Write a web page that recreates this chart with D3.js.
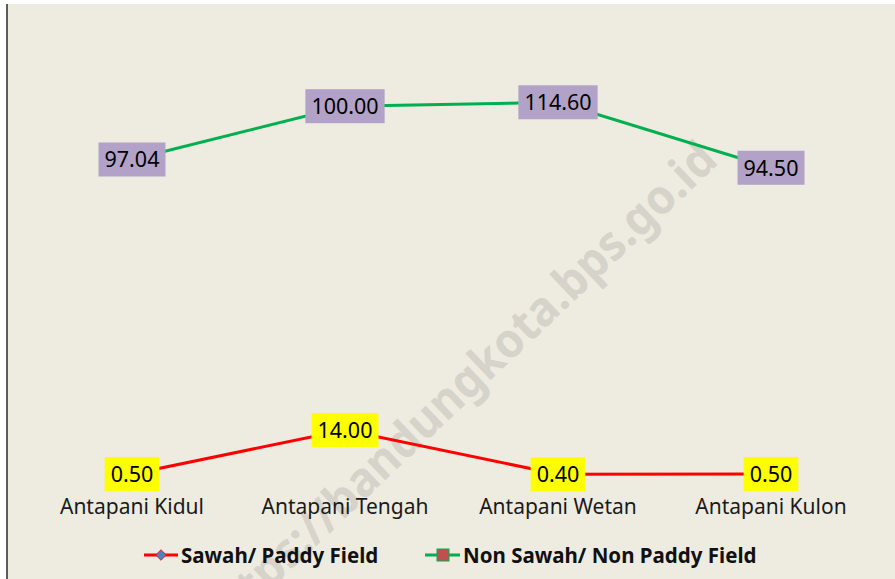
<!DOCTYPE html>
<html>
<head>
<meta charset="utf-8">
<script src="https://cdn.jsdelivr.net/npm/d3@7"></script>
<style>
  body { margin: 0; background: #fff; }
  svg { display: block; }
</style>
</head>
<body>
<div id="chart"></div>
<script>
// data
const categories = ["Antapani Kidul", "Antapani Tengah", "Antapani Wetan", "Antapani Kulon"];
const sawah = [0.5, 14.0, 0.4, 0.5];
const sawahLabels = ["0.50", "14.00", "0.40", "0.50"];
// plotted position of Tengah sits near 113, though its label reads 100.00
const nonSawah = [97.04, 113.4, 114.6, 94.5];
const nonSawahLabels = ["97.04", "100.00", "114.60", "94.50"];
const seriesNames = ["Sawah/ Paddy Field", "Non Sawah/ Non Paddy Field"];

const width = 895, height = 579;

const svg = d3.select("#chart")
    .append("svg")
    .attr("width", width)
    .attr("height", height);

// chart area background
svg.append("rect")
    .attr("x", 7).attr("y", 4)
    .attr("width", width - 7).attr("height", height - 4)
    .attr("fill", "#eeebe1");

svg.append("line")
    .attr("x1", 7).attr("x2", 7)
    .attr("y1", 4).attr("y2", height)
    .attr("stroke", "#2b2b2b")
    .attr("stroke-width", 1.5);

// watermark
svg.append("text")
    .attr("transform", "translate(458,388) rotate(-43.5)")
    .attr("text-anchor", "middle")
    .attr("dy", "0.35em")
    .attr("font-family", "Noto Sans, sans-serif")
    .attr("font-weight", "bold")
    .attr("font-size", "48px")
    .attr("fill", "#d6d3ca")
    .attr("textLength", 690)
    .attr("lengthAdjust", "spacingAndGlyphs")
    .text("https://bandungkota.bps.go.id");

const x = d3.scalePoint()
    .domain(categories)
    .range([25.5, 877.5])
    .padding(0.5);

const y = d3.scaleLinear()
    .domain([0, 120])
    .range([475.6, 84.7]);

const line = d3.line()
    .x((d, i) => x(categories[i]))
    .y(d => y(d));

// series lines
svg.append("path")
    .datum(sawah)
    .attr("d", line)
    .attr("fill", "none")
    .attr("stroke", "#ff0000")
    .attr("stroke-width", 3);

svg.append("path")
    .datum(nonSawah)
    .attr("d", line)
    .attr("fill", "none")
    .attr("stroke", "#00b050")
    .attr("stroke-width", 3);

// data labels with filled boxes
function addLabels(values, labels, fill) {
    const g = svg.append("g")
        .selectAll("g")
        .data(values)
        .enter().append("g")
        .attr("transform", (d, i) => `translate(${x(categories[i])},${y(d)})`);

    g.append("text")
        .attr("text-anchor", "middle")
        .attr("dy", "0.36em")
        .attr("font-family", "Noto Sans, sans-serif")
        .attr("font-size", "21.5px")
        .attr("fill", "#000")
        .text((d, i) => labels[i]);

    g.insert("rect", "text")
        .each(function () {
            const w = this.parentNode.querySelector("text").getComputedTextLength();
            d3.select(this)
                .attr("x", -w / 2 - 6)
                .attr("y", -17)
                .attr("width", w + 12)
                .attr("height", 34)
                .attr("fill", fill);
        });
}

addLabels(sawah, sawahLabels, "#ffff00");
addLabels(nonSawah, nonSawahLabels, "#b2a2c7");

// category labels
svg.append("g")
    .selectAll("text")
    .data(categories)
    .enter().append("text")
    .attr("x", d => x(d))
    .attr("y", 514)
    .attr("text-anchor", "middle")
    .attr("font-family", "Noto Sans, sans-serif")
    .attr("font-size", "21px")
    .attr("fill", "#1a1a1a")
    .text(d => d);

// legend
const legend = svg.append("g");

const leg1 = legend.append("g").attr("transform", "translate(144,555)");
leg1.append("line")
    .attr("x1", 0).attr("x2", 34)
    .attr("stroke", "#ff0000").attr("stroke-width", 3);
leg1.append("path")
    .attr("d", d3.symbol(d3.symbolDiamond2, 72)())
    .attr("transform", "translate(17,0)")
    .attr("fill", "#4f81bd")
    .attr("stroke", "#ff0000")
    .attr("stroke-width", 0.8);
leg1.append("text")
    .attr("x", 37).attr("y", 7.5)
    .attr("font-family", "Noto Sans, sans-serif")
    .attr("font-weight", "bold")
    .attr("font-size", "20.5px")
    .attr("fill", "#111")
    .text(seriesNames[0]);

const leg2 = legend.append("g").attr("transform", "translate(425,555)");
leg2.append("line")
    .attr("x1", 0).attr("x2", 35)
    .attr("stroke", "#00b050").attr("stroke-width", 3);
leg2.append("rect")
    .attr("x", 12).attr("y", -6)
    .attr("width", 12).attr("height", 12)
    .attr("fill", "#c0504d")
    .attr("stroke", "#00b050")
    .attr("stroke-width", 1);
leg2.append("text")
    .attr("x", 38).attr("y", 7.5)
    .attr("font-family", "Noto Sans, sans-serif")
    .attr("font-weight", "bold")
    .attr("font-size", "20.5px")
    .attr("fill", "#111")
    .text(seriesNames[1]);
</script>
</body>
</html>
